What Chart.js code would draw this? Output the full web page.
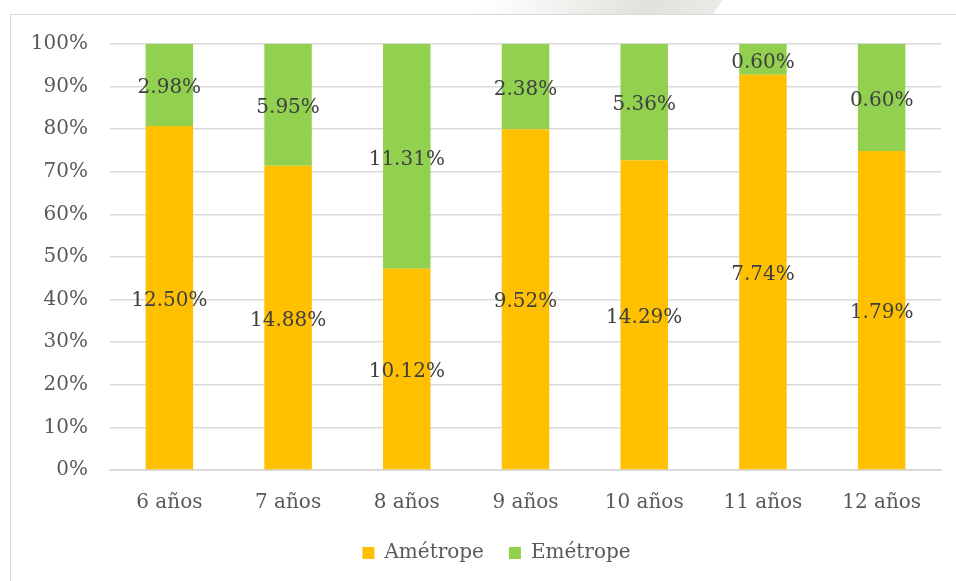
<!DOCTYPE html>
<html>
<head>
<meta charset="utf-8">
<script src="https://cdn.jsdelivr.net/npm/chart.js@4/dist/chart.umd.min.js"></script>
<style>
  html, body { margin: 0; padding: 0; background: #fff; }
  #wrap { position: relative; width: 956px; height: 581px; overflow: hidden; }
  #frame {
    position: absolute; left: 10px; top: 14px; width: 960px; height: 580px;
    border: 1.5px solid #d9d9d9; box-sizing: border-box;
  }
  #mark {
    position: absolute; left: 480px; top: -6px; width: 240px; height: 20px;
    background: linear-gradient(90deg, rgba(240,242,238,0) 0%, #f1f2ef 35%, #dfe2da 70%, #e9ebe6 100%);
    transform: skewX(-35deg);
  }
  canvas { position: absolute; left: 0; top: 0; }
</style>
</head>
<body>
<div id="wrap">
  <div id="mark"></div>
  <div id="frame"></div>
  <canvas id="chart" width="956" height="581"></canvas>
</div>
<script>
// Categories and the share of each group in the whole sample (%)
const edades = ['6 años', '7 años', '8 años', '9 años', '10 años', '11 años', '12 años'];
const ametrope = [12.50, 14.88, 10.12, 9.52, 14.29, 7.74, 1.79];
const emetrope = [2.98, 5.95, 11.31, 2.38, 5.36, 0.60, 0.60];
const yTicks = [0, 10, 20, 30, 40, 50, 60, 70, 80, 90, 100];

// Each column is stacked to 100% of its own age group
const totals = ametrope.map((v, i) => v + emetrope[i]);
const ametropePct = ametrope.map((v, i) => v / totals[i] * 100);
const emetropePct = emetrope.map((v, i) => v / totals[i] * 100);

const serif = "'DejaVu Serif', serif";

// Writes the raw value in the middle of each segment
const segmentLabels = {
  id: 'segmentLabels',
  afterDatasetsDraw(chart) {
    const ctx = chart.ctx;
    ctx.save();
    ctx.font = '20px ' + serif;
    ctx.fillStyle = '#404040';
    ctx.textAlign = 'center';
    ctx.textBaseline = 'middle';
    chart.data.datasets.forEach((ds, di) => {
      const meta = chart.getDatasetMeta(di);
      meta.data.forEach((bar, i) => {
        const y = (bar.y + bar.base) / 2 + 3;
        ctx.fillText(ds.raw[i].toFixed(2) + '%', bar.x, y);
      });
    });
    ctx.restore();
  }
};

// Legend sits a little right of the plot centre
const legendShift = {
  id: 'legendShift',
  afterLayout(chart) {
    chart.legend.left += 26;
    chart.legend.right += 26;
  }
};

const ctx = document.getElementById('chart').getContext('2d');
new Chart(ctx, {
  type: 'bar',
  data: {
    labels: edades,
    datasets: [
      {
        label: 'Amétrope',
        data: ametropePct,
        raw: ametrope,
        backgroundColor: '#ffc000',
        categoryPercentage: 1,
        barPercentage: 0.4
      },
      {
        label: 'Emétrope',
        data: emetropePct,
        raw: emetrope,
        backgroundColor: '#92d050',
        categoryPercentage: 1,
        barPercentage: 0.4
      }
    ]
  },
  options: {
    responsive: false,
    animation: false,
    layout: { padding: { left: 0, right: 15, top: 44, bottom: 8 } },
    plugins: {
      tooltip: { enabled: false },
      legend: {
        position: 'bottom',
        labels: {
          font: { family: serif, size: 20 },
          color: '#595959',
          boxWidth: 12,
          boxHeight: 12,
          padding: 25
        }
      }
    },
    scales: {
      x: {
        stacked: true,
        grid: { display: false, drawTicks: false },
        border: { color: '#d9d9d9', width: 2 },
        ticks: {
          font: { family: serif, size: 20 },
          color: '#595959',
          padding: 21,
          maxRotation: 0
        },
        afterFit(scale) { scale.height = 48; }
      },
      y: {
        stacked: true,
        min: 0,
        max: 100,
        grid: { color: '#d9d9d9', lineWidth: 1.6, drawTicks: false },
        border: { display: false },
        afterBuildTicks(scale) { scale.ticks = yTicks.map(v => ({ value: v })); },
        ticks: {
          font: { family: serif, size: 20 },
          color: '#595959',
          padding: 22,
          callback: v => v + '%'
        },
        afterFit(scale) { scale.width = 110; }
      }
    }
  },
  plugins: [segmentLabels, legendShift]
});
</script>
</body>
</html>
